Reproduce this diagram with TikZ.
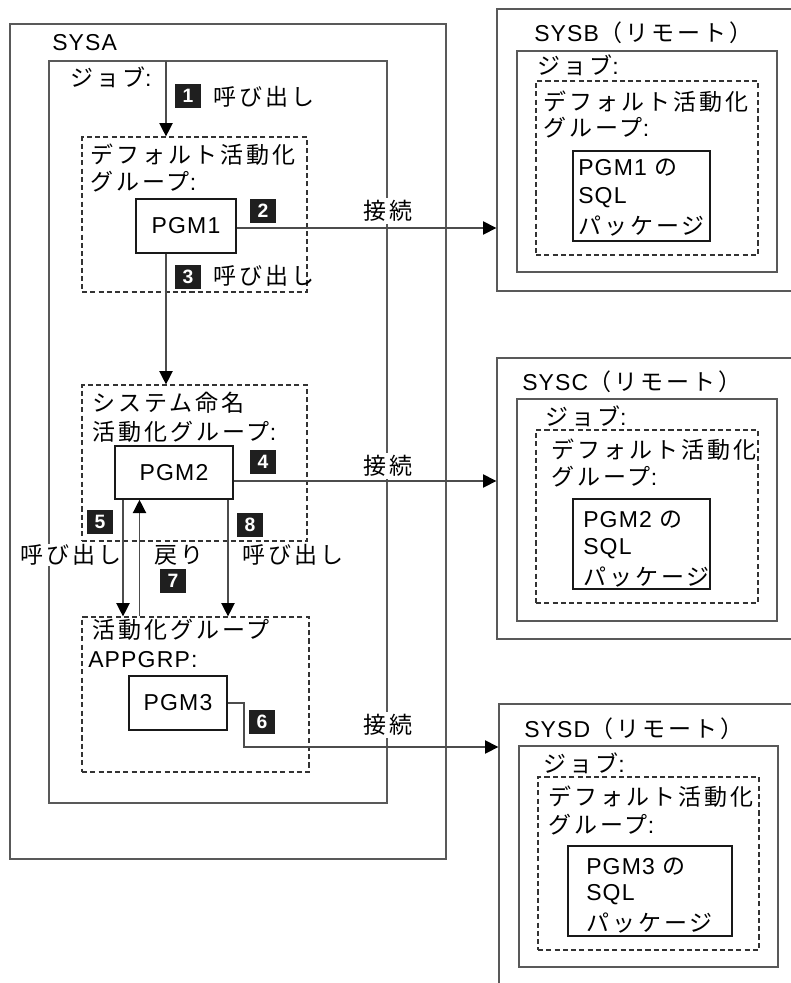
\documentclass[tikz,border=0pt]{standalone}
\usepackage{fontspec}
\setmainfont[LetterSpace=5]{Liberation Sans}
\newfontfamily\jp[LetterSpace=13]{Noto Sans CJK JP}
\usetikzlibrary{arrows.meta,fit,calc}
\newcommand\fsz{\fontsize{17.25}{20}\selectfont}
\newcommand\bfsz{\fontsize{14.5}{16}\selectfont\bfseries}
\begin{document}
\begin{tikzpicture}[x=0.75pt,y=-0.75pt,
 box/.style={draw=black!65, line width=1pt, inner sep=0pt},
 dbox/.style={draw=black!80, line width=0.9pt, dash pattern=on 3.8pt off 2.4pt, inner sep=0pt},
 pgm/.style={draw=black!90, line width=1.2pt, inner sep=0pt},
 ptxt/.style={font=\fsz, inner sep=0pt, text=black},
 txt/.style={anchor=west, inner sep=0pt, font=\fsz, text=black},
 lbl/.style={font=\fsz, fill=white, inner sep=1.5pt, text=black},
 badge/.style={fill=black!88, text=white, font=\bfsz, minimum width=19.5pt, minimum height=18.5pt, inner sep=0pt},
 conn/.style={draw=black!70, line width=1pt},
 arr/.style={conn, -{Triangle[length=10pt,width=10pt,black]}},
]
\useasboundingbox (0,0) rectangle (791,983);
\clip (0,0) rectangle (791,983);

% ---------------- SYSA ----------------
\node[box, fit={(10,24)(446,859)}] (sysa) {};
\node[txt] (sysat) at (52,43) {SYSA};
\node[box, fit={(49,61)(387,803)}] (joba) {};
\node[txt] (jobat) at (70,77) {{\jp ジョブ}:};

% default activation group
\node[dbox, fit={(82,137)(307,292)}] (dg1) {};
\node[txt] (dg1a) at (90,155) {\jp デフォルト活動化};
\node[txt] (dg1b) at (90,182) {{\jp グループ}:};
\node[pgm, fit={(136,199)(236,253)}] (pgm1) {};
\node[ptxt] (pgm1t) at (pgm1.center) {PGM1};

% system-named activation group
\node[dbox, fit={(82,385)(307,541)}] (dg2) {};
\node[txt] (dg2a) at (92,403) {\jp システム命名};
\node[txt] (dg2b) at (92,432) {{\jp 活動化グループ}:};
\node[pgm, fit={(115,446)(233,499)}] (pgm2) {};
\node[ptxt] (pgm2t) at (pgm2.center) {PGM2};

% APPGRP
\node[dbox, fit={(82,617)(309,772)}] (dg3) {};
\node[txt] (dg3a) at (92,630) {\jp 活動化グループ};
\node[txt] (dg3b) at (88,660) {APPGRP:};
\node[pgm, fit={(129,676)(227,730)}] (pgm3) {};
\node[ptxt] (pgm3t) at (pgm3.center) {PGM3};

% ---------------- SYSB ----------------
\node[box, fit={(497,9)(830,291)}] (sysb) {};
\node[txt] (sysbt) at (534,33) {SYSB{\jp （リモート）}};
\node[box, fit={(517,51)(777,272)}] (jobb) {};
\node[txt] (jobbt) at (537,65) {{\jp ジョブ}:};
\node[dbox, fit={(536,81)(758,255)}] (dgb) {};
\node[txt] (dgba) at (543,102) {\jp デフォルト活動化};
\node[txt] (dgbb) at (543,128) {{\jp グループ}:};
\node[pgm, fit={(573,151)(710,241)}] (pkb) {};
\node[txt] (pkb1) at (578,168) {PGM1 {\jp の}};
\node[txt] (pkb2) at (578,198) {SQL};
\node[txt] (pkb3) at (578,226) {\jp パッケージ};

% ---------------- SYSC ----------------
\node[box, fit={(497,358)(830,639)}] (sysc) {};
\node[txt] (sysct) at (522,382) {SYSC{\jp （リモート）}};
\node[box, fit={(517,399)(777,621)}] (jobc) {};
\node[txt] (jobct) at (545,416) {{\jp ジョブ}:};
\node[dbox, fit={(536,430)(758,603)}] (dgc) {};
\node[txt] (dgca) at (551,450) {\jp デフォルト活動化};
\node[txt] (dgcb) at (551,477) {{\jp グループ}:};
\node[pgm, fit={(573,499)(710,589)}] (pkc) {};
\node[txt] (pkc1) at (583,520) {PGM2 {\jp の}};
\node[txt] (pkc2) at (583,549) {SQL};
\node[txt] (pkc3) at (583,577) {\jp パッケージ};

% ---------------- SYSD ----------------
\node[box, fit={(499,704)(830,1020)}] (sysd) {};
\node[txt] (sysdt) at (524,729) {SYSD{\jp （リモート）}};
\node[box, fit={(519,746)(778,967)}] (jobd) {};
\node[txt] (jobdt) at (543,763) {{\jp ジョブ}:};
\node[dbox, fit={(538,777)(759,950)}] (dgd) {};
\node[txt] (dgda) at (548,797) {\jp デフォルト活動化};
\node[txt] (dgdb) at (548,825) {{\jp グループ}:};
\node[pgm, fit={(568,846)(732,936)}] (pkd) {};
\node[txt] (pkd1) at (586,867) {PGM3 {\jp の}};
\node[txt] (pkd2) at (586,895) {SQL};
\node[txt] (pkd3) at (586,923) {\jp パッケージ};

% ---------------- connectors ----------------
\coordinate (a1s) at (166,61);
\coordinate (y2) at (0,228);
\coordinate (y4) at (0,481);
\coordinate (x5) at (123,0);
\coordinate (x7) at (139.5,0);
\coordinate (x8) at (228,0);
\coordinate (c6) at (244,747);

\draw[arr] (a1s) -- (a1s |- dg1.north);
\draw[arr] (a1s |- pgm1.south) -- (a1s |- dg2.north);
\draw[arr] (pgm1.east |- y2) -- (sysb.west |- y2);
\draw[arr] (pgm2.east |- y4) -- (sysc.west |- y4);
\draw[arr] (x5 |- pgm2.south) -- (x5 |- dg3.north);
\draw[arr] (x7 |- dg3.north) -- (x7 |- pgm2.south);
\draw[arr] (x8 |- pgm2.south) -- (x8 |- dg3.north);
\draw[arr] (pgm3.east) -| (c6) -- (c6 -| sysd.west);

% connector labels
\node[lbl] (k1) at (388,211) {\jp 接続};
\node[lbl] (k2) at (388,466) {\jp 接続};
\node[lbl] (k3) at (388,725) {\jp 接続};

\node[txt] (l1) at (213,97) {\jp 呼び出し};
\node[txt] (l3) at (213,276) {\jp 呼び出し};
\node[lbl, anchor=west, inner sep=0pt] (l5) at (20,555) {\jp 呼び出し};
\node[txt] (l7) at (154,555) {\jp 戻り};
\node[txt] (l8) at (242,555) {\jp 呼び出し};

% badges
\node[badge] (b1) at (188,96) {1};
\node[badge] (b2) at (263,211) {2};
\node[badge] (b3) at (188,277) {3};
\node[badge] (b4) at (263,462) {4};
\node[badge] (b5) at (100,522) {5};
\node[badge] (b6) at (262,722) {6};
\node[badge] (b7) at (173,581) {7};
\node[badge] (b8) at (250,525) {8};
\end{tikzpicture}
\end{document}
